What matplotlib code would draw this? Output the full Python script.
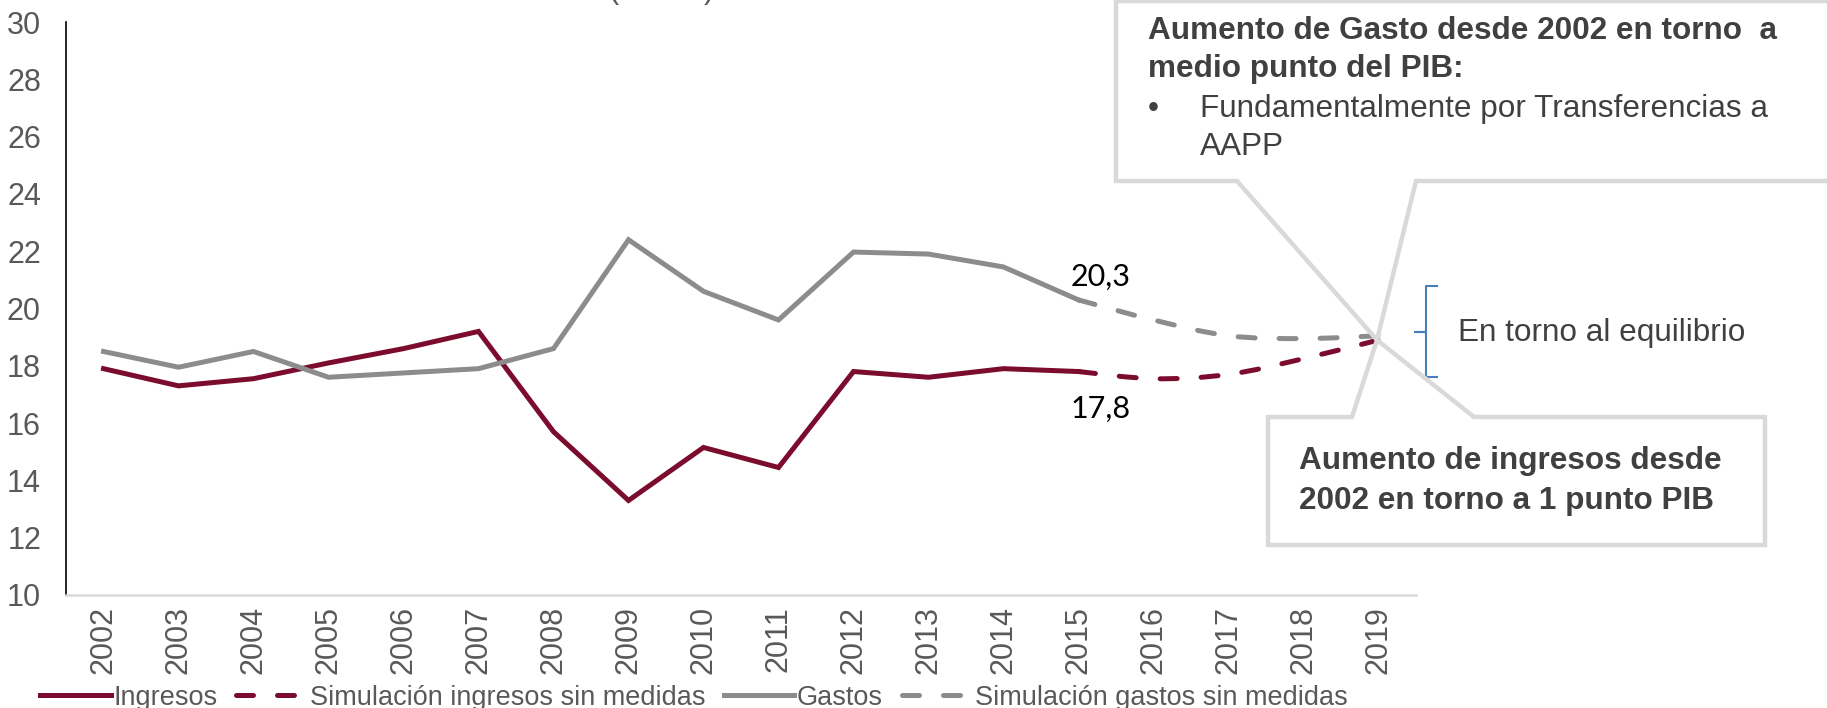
import matplotlib
matplotlib.use("Agg")
import matplotlib.pyplot as plt
from matplotlib.patches import Polygon, PathPatch
from matplotlib.path import Path
from matplotlib.lines import Line2D

years = ["2002", "2003", "2004", "2005", "2006", "2007", "2008", "2009", "2010",
         "2011", "2012", "2013", "2014", "2015", "2016", "2017", "2018", "2019"]
ingresos = [17.9, 17.3, 17.55, 18.1, 18.6, 19.2, 15.7, 13.3, 15.15, 14.45,
            17.8, 17.6, 17.9, 17.8]
sim_ingresos_years = ["2015", "2016", "2017", "2018", "2019"]
sim_ingresos = [17.8, 17.55, 17.7, 18.25, 18.9]
gastos = [18.5, 17.95, 18.5, 17.6, 17.75, 17.9, 18.6, 22.4, 20.6, 19.6,
          21.97, 21.9, 21.45, 20.3]
sim_gastos_years = ["2015", "2016", "2017", "2018", "2019"]
sim_gastos = [20.3, 19.6, 19.05, 18.95, 19.05]
label_gastos_2015 = "20,3"
label_ingresos_2015 = "17,8"

RED = "#7B0C2E"
GRAY = "#8C8C8C"
BOX = "#D9D9D9"
TXT = "#595959"
DARK = "#404040"

plt.rcParams["font.family"] = ["Liberation Sans", "DejaVu Sans"]

W, H = 1827, 708
fig = plt.figure(figsize=(W / 100, H / 100), dpi=100)
ax = fig.add_axes([66 / W, 1 - 595 / H, 1350 / W, (595 - 22) / H])

xi = {y: i for i, y in enumerate(years)}
lw = 3.6
dash = (0, (3.4, 4.8))


def smooth_path(xs, ys, k=6.0):
    """Bezier path through the points (smoothed line as in the original chart)."""
    verts = [(xs[0], ys[0])]
    codes = [Path.MOVETO]
    n = len(xs)
    for i in range(n - 1):
        x0, y0 = (xs[i - 1], ys[i - 1]) if i > 0 else (xs[i], ys[i])
        x1, y1 = xs[i], ys[i]
        x2, y2 = xs[i + 1], ys[i + 1]
        x3, y3 = (xs[i + 2], ys[i + 2]) if i + 2 < n else (x2, y2)
        c1 = (x1 + (x2 - x0) / k, y1 + (y2 - y0) / k)
        c2 = (x2 - (x3 - x1) / k, y2 - (y3 - y1) / k)
        verts += [c1, c2, (x2, y2)]
        codes += [Path.CURVE4] * 3
    return Path(verts, codes)


ax.plot([xi[y] for y in years[:len(ingresos)]], ingresos, color=RED, lw=lw,
        solid_joinstyle="miter")
ax.add_patch(PathPatch(smooth_path([xi[y] for y in sim_ingresos_years], sim_ingresos),
                       fill=False, edgecolor=RED, lw=lw, ls=dash, capstyle="round"))
ax.plot([xi[y] for y in years[:len(gastos)]], gastos, color=GRAY, lw=lw,
        solid_joinstyle="miter")
ax.add_patch(PathPatch(smooth_path([xi[y] for y in sim_gastos_years], sim_gastos),
                       fill=False, edgecolor=GRAY, lw=lw, ls=dash, capstyle="round"))

ax.set_xlim(-0.5, len(years) - 0.5)
ax.set_ylim(10, 30)
ax.set_yticks(range(10, 31, 2))
ax.set_xticks(range(len(years)))
ax.set_xticklabels(years, rotation=90)
ax.tick_params(axis="both", length=0, labelsize=22, labelcolor=TXT)
ax.tick_params(axis="y", pad=18)
ax.tick_params(axis="x", pad=8)
for s in ["top", "right"]:
    ax.spines[s].set_visible(False)
ax.spines["left"].set_color("black")
ax.spines["left"].set_linewidth(1.2)
ax.spines["bottom"].set_color(BOX)
ax.spines["bottom"].set_linewidth(1.8)

# data labels
ax.text(xi["2015"] + 0.3, 20.3 + 0.33, label_gastos_2015, fontsize=22,
        family=["Lato", "DejaVu Sans"], ha="center", va="bottom", color="black")
ax.text(xi["2015"] + 0.3, 17.8 - 0.8, label_ingresos_2015, fontsize=22,
        family=["Lato", "DejaVu Sans"], ha="center", va="top", color="black")


def P(x, y):
    return (x / W, 1 - y / H)


tip = (1377, 340)
top_poly = [P(1116, 1), P(1116, 181), P(1237, 181), P(*tip), P(1416, 181),
            P(1900, 181), P(1900, 1)]
fig.patches.append(Polygon(top_poly, closed=True, transform=fig.transFigure,
                           facecolor="white", edgecolor=BOX, lw=3.2, zorder=5,
                           joinstyle="miter"))
bot_poly = [P(1268, 417), P(1352, 417), P(*tip), P(1474, 417), P(1765, 417),
            P(1765, 545), P(1268, 545)]
fig.patches.append(Polygon(bot_poly, closed=True, transform=fig.transFigure,
                           facecolor="white", edgecolor=BOX, lw=3.2, zorder=5,
                           joinstyle="miter"))

FS = 22.7
fig.text(*P(1148, 31), "Aumento de Gasto desde 2002 en torno  a", fontsize=FS,
         weight="bold", color=DARK, va="center", ha="left", zorder=6)
fig.text(*P(1148, 69), "medio punto del PIB:", fontsize=FS, weight="bold",
         color=DARK, va="center", ha="left", zorder=6)
fig.text(*P(1148, 109), "•", fontsize=FS, color=DARK, va="center", ha="left", zorder=6)
fig.text(*P(1200, 109), "Fundamentalmente por Transferencias a", fontsize=FS,
         color=DARK, va="center", ha="left", zorder=6)
fig.text(*P(1200, 147), "AAPP", fontsize=FS, color=DARK, va="center", ha="left", zorder=6)

fig.text(*P(1299, 461), "Aumento de ingresos desde", fontsize=FS, weight="bold",
         color=DARK, va="center", ha="left", zorder=6)
fig.text(*P(1299, 501), "2002 en torno a 1 punto PIB", fontsize=FS, weight="bold",
         color=DARK, va="center", ha="left", zorder=6)

# bracket
bx = [P(1437, 286), P(1426, 286), P(1426, 332), P(1415, 332), P(1426, 332),
      P(1426, 377), P(1437, 377)]
fig.lines.append(Line2D([p[0] for p in bx], [p[1] for p in bx],
                        transform=fig.transFigure, color="#4A7EBB", lw=1.5))
fig.text(*P(1458, 333), "En torno al equilibrio", fontsize=FS, color=DARK,
         va="center", ha="left")

# subtitle, cut off at the top edge as in the reference
fig.text(*P(662, -2), "(% PIB)", fontsize=22, color=TXT, ha="center", va="baseline")

handles = [Line2D([], [], color=RED, lw=lw),
           Line2D([], [], color=RED, lw=lw, ls=dash, dash_capstyle="round"),
           Line2D([], [], color=GRAY, lw=lw),
           Line2D([], [], color=GRAY, lw=lw, ls=dash, dash_capstyle="round")]
labels = ["Ingresos", "Simulación ingresos sin medidas", "Gastos",
          "Simulación gastos sin medidas"]
leg = fig.legend(handles, labels, loc="lower left", bbox_to_anchor=(0.022, -0.004),
                 ncol=4, frameon=False, fontsize=19.5, handlelength=2.6,
                 handletextpad=0.1, columnspacing=0.7, borderpad=0, borderaxespad=0)
for t in leg.get_texts():
    t.set_color(TXT)

fig.savefig("out.png", dpi=100)
